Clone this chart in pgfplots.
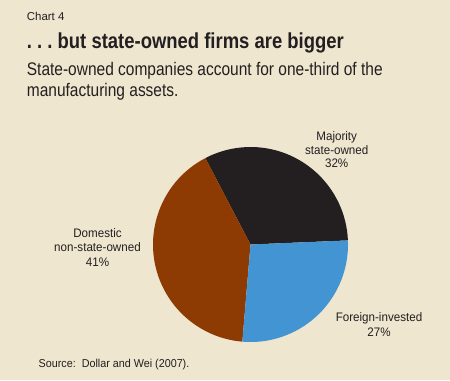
\documentclass[border=0pt]{standalone}
\usepackage{pgfplots}
\pgfplotsset{compat=1.18}
\usepackage{pgfplotstable}
\usepackage{fontspec}
\setmainfont{Liberation Sans}
\newfontfamily\condfont{Liberation Sans}[FakeStretch=0.85]
\newfontfamily\labfont{Liberation Sans}[FakeStretch=0.94]
\definecolor{bg}{HTML}{EFE6D0}
\definecolor{txt}{HTML}{231F20}
\definecolor{piedark}{HTML}{231F20}
\definecolor{pieblue}{HTML}{4295D2}
\definecolor{piebrown}{HTML}{8E3A03}

\pgfplotstableread{
slice value
Majority 32
Domestic 41
Foreign 27
}\piedata

\begin{document}
\begin{tikzpicture}
\pgfplotstablegetelem{0}{value}\of\piedata \pgfmathsetmacro\va{\pgfplotsretval*3.6}
\pgfplotstablegetelem{1}{value}\of\piedata \pgfmathsetmacro\vb{\pgfplotsretval*3.6}
\pgfplotstablegetelem{2}{value}\of\piedata \pgfmathsetmacro\vc{\pgfplotsretval*3.6}
\pgfmathsetmacro\aa{2.4}
\pgfmathsetmacro\ab{\aa+\va}
\pgfmathsetmacro\ac{\ab+\vb}
\pgfmathsetmacro\ad{\ac+\vc}
\begin{axis}[width=450bp,height=380bp,scale only axis,
  xmin=0,xmax=450,ymin=0,ymax=380,hide axis,clip=false]
\fill[bg] (axis cs:0,0) rectangle (axis cs:450,380);
\fill[piedark] (axis cs:250.5,135.5) -- ++(\aa:97.5bp) arc[start angle=\aa, end angle=\ab, radius=97.5bp] -- cycle;
\fill[piebrown] (axis cs:250.5,135.5) -- ++(\ab:97.5bp) arc[start angle=\ab, end angle=\ac, radius=97.5bp] -- cycle;
\fill[pieblue] (axis cs:250.5,135.5) -- ++(\ac:97.5bp) arc[start angle=\ac, end angle=\ad, radius=97.5bp] -- cycle;
\begin{scope}[every node/.style={inner sep=0pt, text=txt}]
\node[anchor=base west, font=\fontsize{11.5}{13}\selectfont] at (axis cs:26.7,360) {Chart 4};
\node[anchor=base west, font=\condfont\bfseries\fontsize{21.8}{24}\selectfont] at (axis cs:26.7,331.7) {.\ .\ .\ but state-owned firms are bigger};
\node[anchor=base west, font=\condfont\fontsize{18.3}{20}\selectfont] at (axis cs:26.7,305) {State-owned companies account for one-third of the};
\node[anchor=base west, font=\condfont\fontsize{18.3}{20}\selectfont] at (axis cs:26.7,283.3) {manufacturing assets.};
\node[anchor=base, font=\labfont\fontsize{12.4}{14}\selectfont] at (axis cs:336.7,240) {Majority};
\node[anchor=base, font=\labfont\fontsize{12.4}{14}\selectfont] at (axis cs:336.7,225.7) {state-owned};
\node[anchor=base, font=\labfont\fontsize{12.4}{14}\selectfont] at (axis cs:336.7,212.3) {32\%};
\node[anchor=base, font=\labfont\fontsize{12.4}{14}\selectfont] at (axis cs:379,58.3) {Foreign-invested};
\node[anchor=base, font=\labfont\fontsize{12.4}{14}\selectfont] at (axis cs:379,44) {27\%};
\node[anchor=base, font=\labfont\fontsize{12.4}{14}\selectfont] at (axis cs:97.5,142.7) {Domestic};
\node[anchor=base, font=\labfont\fontsize{12.4}{14}\selectfont] at (axis cs:97.5,128.3) {non-state-owned};
\node[anchor=base, font=\labfont\fontsize{12.4}{14}\selectfont] at (axis cs:97.5,113.3) {41\%};
\node[anchor=base west, font=\labfont\fontsize{11.5}{13}\selectfont] at (axis cs:38.5,12.3) {Source:\ \ Dollar and Wei (2007).};
\end{scope}
\end{axis}
\end{tikzpicture}
\end{document}
